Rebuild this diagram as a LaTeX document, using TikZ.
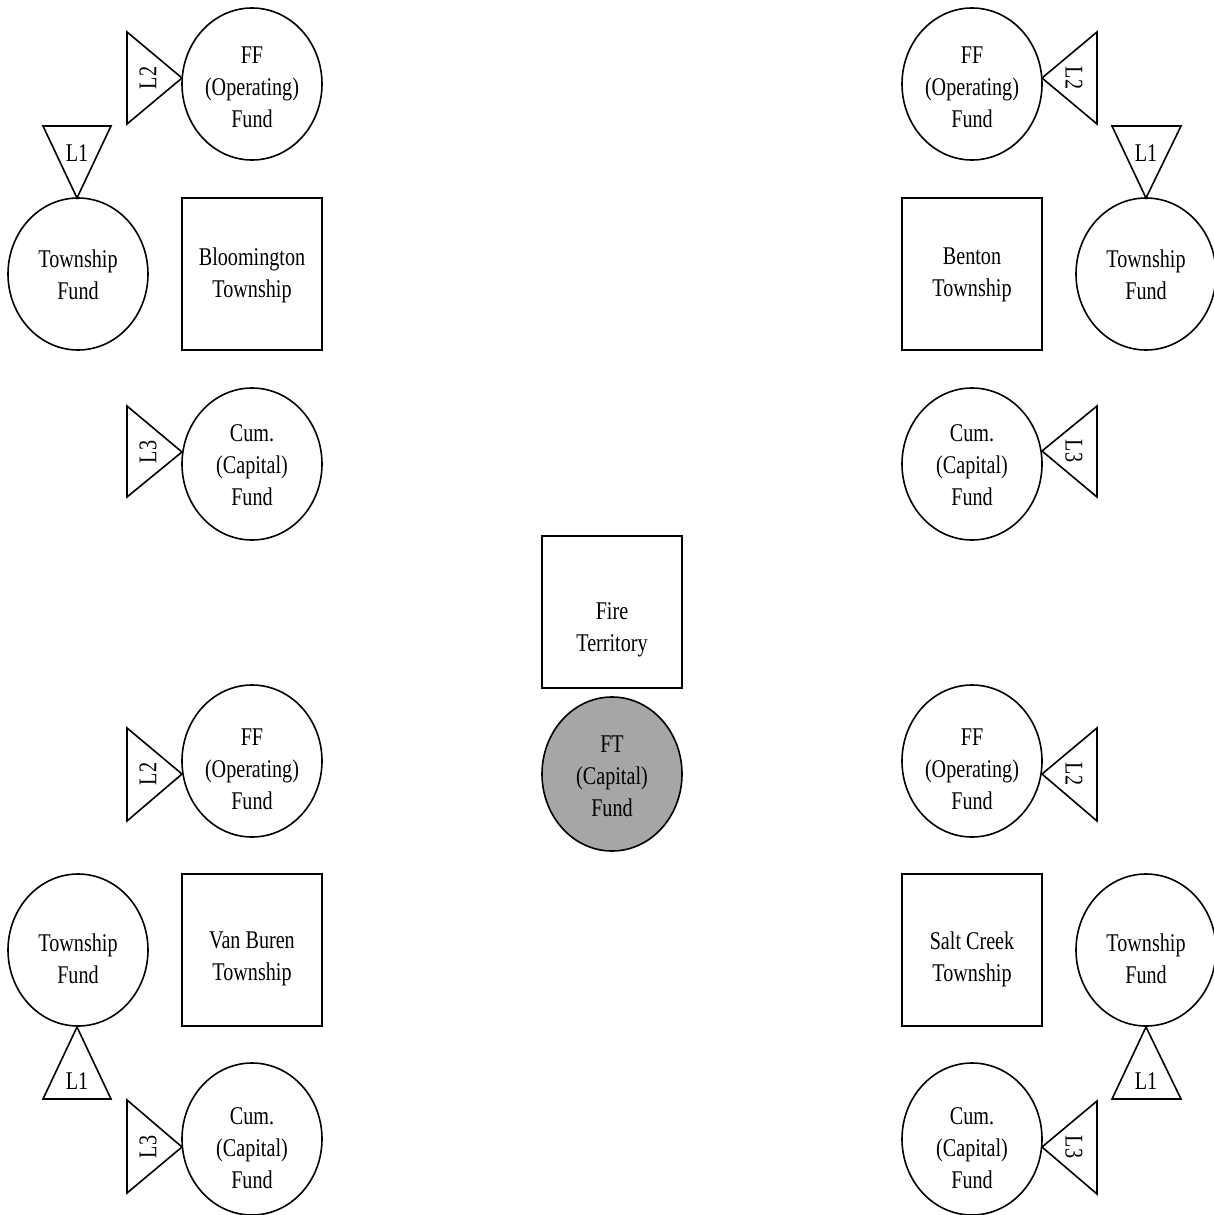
\documentclass[tikz,border=0pt]{standalone}
\usepackage{fontspec}
\setmainfont[FakeStretch=0.79]{Liberation Serif}
\usetikzlibrary{shapes.geometric}
\definecolor{ftgray}{RGB}{166,166,166}
\begin{document}
\begin{tikzpicture}[x=1pt,y=-1pt,
  txt/.style={font=\fontsize{25.5}{32}\selectfont,inner sep=0pt,align=center},
  fund/.style={ellipse,draw,line width=1.6pt,minimum width=140pt,minimum height=152pt,inner sep=0pt},
  twp/.style={rectangle,draw,line width=1.6pt,minimum width=140pt,minimum height=152pt,inner sep=0pt},
  levy/.style={draw,line width=1.6pt,line join=miter},
  lvl/.style={txt},
]
\useasboundingbox (0,0) rectangle (1214,1215);
\fill[white] (0,0) rectangle (1214,1215);

% ---------- top left: Bloomington ----------
\node[fund] (ffTL) at (252,84) {};
\node[txt] (ffTLt) at (252,87) {FF\\(Operating)\\Fund};
\draw[levy] (127,32) -- (127,124) -- (182,78) -- cycle;
\node[lvl,rotate=90] (l2TL) at (148,78) {L2};
\draw[levy] (43,126) -- (111,126) -- (77,198) -- cycle;
\node[lvl] (l1TL) at (77,153) {L1};
\node[fund] (twTL) at (78,274) {};
\node[txt] (twTLt) at (78,275) {Township\\Fund};
\node[twp] (sqTL) at (252,274) {};
\node[txt] (sqTLt) at (252,275) {Bloomington\\Township};
\node[fund] (cumTL) at (252,464) {};
\node[txt] (cumTLt) at (252,465) {Cum.\\(Capital)\\Fund};
\draw[levy] (127,406) -- (127,497) -- (182,452) -- cycle;
\node[lvl,rotate=90] (l3TL) at (148,452) {L3};

% ---------- top right: Benton ----------
\node[fund] (ffTR) at (972,84) {};
\node[txt] (ffTRt) at (972,87) {FF\\(Operating)\\Fund};
\draw[levy] (1097,32) -- (1097,124) -- (1042,78) -- cycle;
\node[lvl,rotate=-90] (l2TR) at (1074,78) {L2};
\draw[levy] (1112,126) -- (1181,126) -- (1146,198) -- cycle;
\node[lvl] (l1TR) at (1146,153) {L1};
\node[fund] (twTR) at (1146,274) {};
\node[txt] (twTRt) at (1146,275) {Township\\Fund};
\node[twp] (sqTR) at (972,274) {};
\node[txt] (sqTRt) at (972,275) {Benton\\Township};
\node[fund] (cumTR) at (972,464) {};
\node[txt] (cumTRt) at (972,465) {Cum.\\(Capital)\\Fund};
\draw[levy] (1097,406) -- (1097,497) -- (1042,451) -- cycle;
\node[lvl,rotate=-90] (l3TR) at (1074,451) {L3};

% ---------- centre: Fire Territory ----------
\node[twp] (ftSq) at (612,612) {};
\node[txt] (ftSqt) at (612,630) {Fire\\Territory};
\node[fund,fill=ftgray,minimum height=154pt] (ftFund) at (612,774) {};
\node[txt] (ftFundt) at (612,776) {FT\\(Capital)\\Fund};

% ---------- bottom left: Van Buren ----------
\node[fund] (ffBL) at (252,761) {};
\node[txt] (ffBLt) at (252,769) {FF\\(Operating)\\Fund};
\draw[levy] (127,728) -- (127,821) -- (182,774) -- cycle;
\node[lvl,rotate=90] (l2BL) at (148,774) {L2};
\node[fund] (twBL) at (78,950) {};
\node[txt] (twBLt) at (78,959) {Township\\Fund};
\node[twp] (sqBL) at (252,950) {};
\node[txt] (sqBLt) at (252,959) {Van Buren\\Township};
\draw[levy] (77,1027) -- (111,1099) -- (43,1099) -- cycle;
\node[lvl] (l1BL) at (77,1081) {L1};
\node[fund] (cumBL) at (252,1139) {};
\node[txt] (cumBLt) at (252,1148) {Cum.\\(Capital)\\Fund};
\draw[levy] (127,1100) -- (127,1193) -- (182,1147) -- cycle;
\node[lvl,rotate=90] (l3BL) at (148,1147) {L3};

% ---------- bottom right: Salt Creek ----------
\node[fund] (ffBR) at (972,761) {};
\node[txt] (ffBRt) at (972,769) {FF\\(Operating)\\Fund};
\draw[levy] (1097,728) -- (1097,821) -- (1042,774) -- cycle;
\node[lvl,rotate=-90] (l2BR) at (1074,774) {L2};
\node[twp] (sqBR) at (972,950) {};
\node[txt] (sqBRt) at (972,959) {Salt Creek\\Township};
\node[fund] (twBR) at (1146,950) {};
\node[txt] (twBRt) at (1146,959) {Township\\Fund};
\draw[levy] (1146,1027) -- (1181,1099) -- (1112,1099) -- cycle;
\node[lvl] (l1BR) at (1146,1081) {L1};
\node[fund] (cumBR) at (972,1139) {};
\node[txt] (cumBRt) at (972,1148) {Cum.\\(Capital)\\Fund};
\draw[levy] (1097,1101) -- (1097,1194) -- (1042,1147) -- cycle;
\node[lvl,rotate=-90] (l3BR) at (1074,1147) {L3};
\end{tikzpicture}
\end{document}
